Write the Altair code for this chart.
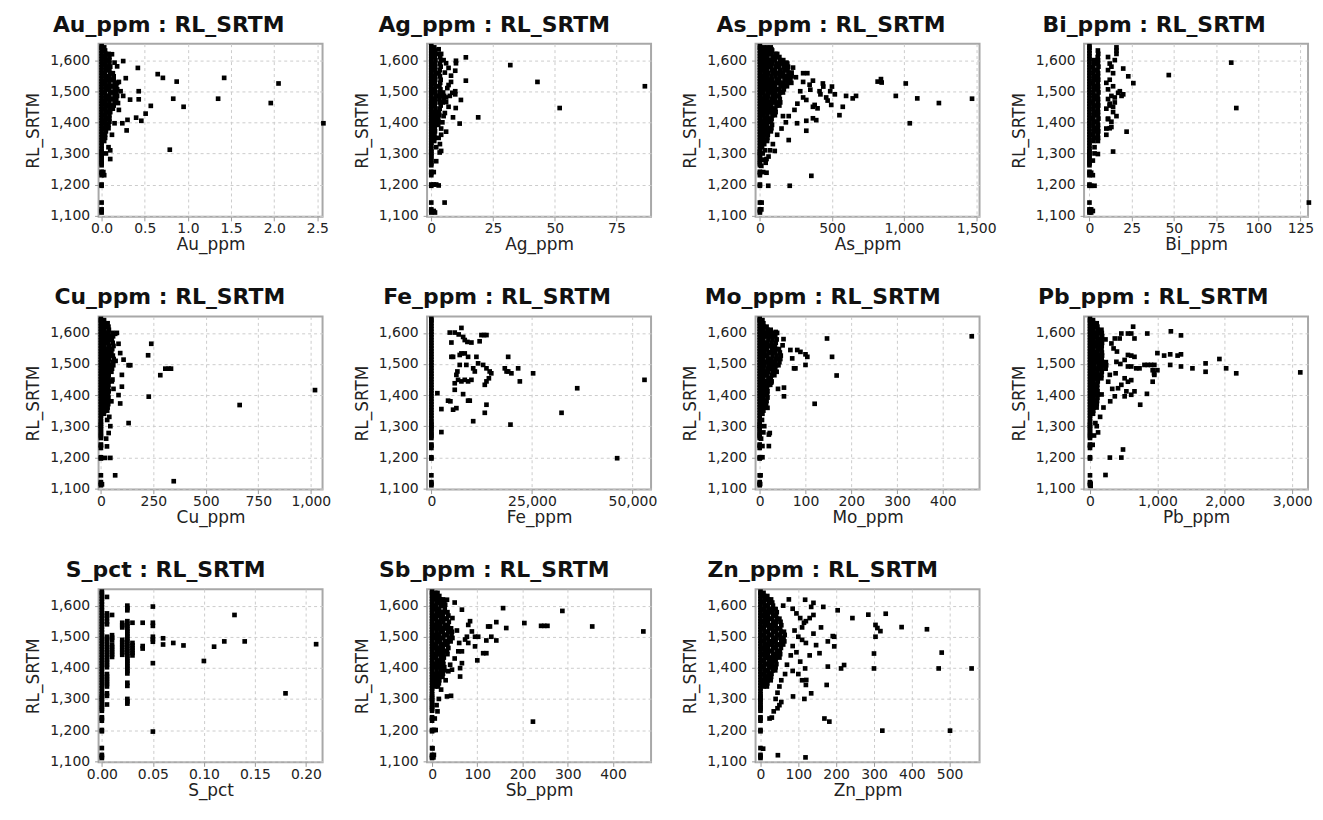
import altair as alt
import pandas as pd

N = None

# RL_SRTM of samples that sit at (near) zero for every element
RL_BAND = [1110, 1115, 1120, 1142, 1196, 1200, 1230, 1237, 1241, 1262, 1268, 1275, 1281, 1290,
           1296, 1302, 1308, 1315, 1325, 1334, 1343, 1352, 1361, 1370, 1379, 1388, 1397, 1406,
           1415, 1424, 1433, 1442, 1451, 1460, 1469, 1478, 1487, 1496, 1505, 1514, 1523, 1532,
           1541, 1550, 1559, 1568, 1577, 1586, 1595, 1604, 1613, 1622, 1631, 1640, 1645]

# RL_SRTM of the dense low-value cluster samples (one value per row of each cluster column)
RL_C = [1641, 1631, 1620, 1610, 1600, 1589, 1579, 1568, 1558, 1548, 1537, 1527, 1516, 1506, 1496,
        1485, 1475, 1464, 1454, 1444, 1433, 1423, 1412, 1402, 1392, 1381, 1371, 1360, 1350, 1340]

AU_COLS = [
    [0.03, 0.04, 0.05, 0.04, 0.05, 0.04, 0.05, 0.05, 0.04, 0.05, 0.05, 0.04, 0.05, 0.05, 0.04,
     0.05, 0.05, 0.04, 0.05, 0.04, 0.05, 0.04, 0.05, 0.04, 0.05, 0.04, 0.05, 0.04, 0.04, 0.03],
    [N, N, 0.08, 0.09, 0.09, 0.09, 0.1, 0.09, 0.1, 0.09, 0.1, 0.09, 0.1, 0.09, 0.1,
     0.09, 0.1, 0.09, 0.1, 0.09, 0.1, 0.09, 0.09, 0.09, 0.08, 0.08, N, N, N, N],
    [N, N, N, N, N, N, N, N, 0.13, 0.14, 0.14, 0.15, 0.14, 0.15, 0.14,
     0.15, 0.14, 0.15, 0.14, 0.13, N, N, N, N, N, N, N, N, N, N],
    [N, N, N, N, N, N, N, N, N, N, N, 0.18, 0.17, 0.18, 0.17,
     0.18, 0.17, N, N, N, N, N, N, N, N, N, N, N, N, N],
]
AU_EXTRA = [(0.12, 1619), (0.15, 1592), (0.25, 1597), (0.28, 1542), (0.42, 1575), (0.65, 1555), (0.71, 1543),
            (0.87, 1531), (1.42, 1543), (2.05, 1525), (1.96, 1462), (1.35, 1476), (0.83, 1476), (0.95, 1450),
            (0.79, 1312), (2.57, 1397), (0.57, 1453), (0.51, 1428), (0.46, 1405), (0.4, 1415), (0.3, 1408),
            (0.29, 1374), (0.24, 1397), (0.43, 1500), (0.43, 1474), (0.33, 1473), (0.25, 1485), (0.19, 1462),
            (0.1, 1310), (0.1, 1282), (0.15, 1397), (0.2, 1530), (0.22, 1500), (0.03, 1230), (0.02, 1240),
            (0.12, 1360), (0.08, 1320), (0.05, 1300), (0.2, 1440), (0.18, 1580)]

AG_COLS = [
    [1.2, 1.5, 1.6, 1.4, 1.7, 1.5, 1.6, 1.4, 1.7, 1.5, 1.6, 1.4, 1.7, 1.5, 1.6,
     1.8, 1.5, 1.6, 1.4, 1.7, 1.5, 1.6, 1.4, 1.5, 1.6, 1.4, 1.5, 1.3, 1.4, 1.2],
    [N, N, 3, 3.6, 3.9, 3.5, 3.8, 3.4, 3.1, 3.5, 3.8, 3.6, 3.3, 3.7, 3.4,
     3.6, 3.3, 3.5, 3.8, 3.4, 3.1, 3.2, 2.8, 2.9, 2.8, N, N, N, N, N],
    [N, N, N, N, N, N, N, N, N, N, N, N, N, N, 4.8,
     5.2, 5, 4.6, N, N, N, N, N, N, N, N, N, N, N, N],
]
AG_EXTRA = [(14, 1609), (10, 1598), (10, 1590), (14, 1534), (9.7, 1566), (12, 1472), (9.7, 1500), (9.7, 1490),
            (9.9, 1446), (8.8, 1416), (11.5, 1396), (19, 1416), (6, 1370), (3.4, 1303), (4, 1308), (5.4, 1142),
            (1, 1115), (1.5, 1110), (32, 1584), (43, 1530), (52, 1446), (86.5, 1516), (1, 1200), (2, 1200),
            (3, 1197), (1, 1240), (2, 1275), (7, 1520), (6, 1480), (8, 1550), (5, 1600), (4, 1620), (3, 1635),
            (7, 1450), (5, 1420), (4, 1380), (3, 1350), (2, 1320), (6, 1590), (7, 1575), (5.5, 1560),
            (8, 1530), (6.5, 1510), (8.5, 1495), (7.5, 1485), (6, 1465), (5.5, 1430), (4.5, 1400),
            (4, 1360), (3.5, 1330)]

AS_COLS = [
    [25, 30, 28, 26, 30, 27, 29, 25, 31, 28, 26, 30, 27, 29, 25, 31, 28, 26, 30, 27, 29, 25, 31, 28, 26, 30, 27, 29, 25, 28],
    [50, 58, 55, 52, 57, 54, 58, 51, 56, 53, 57, 55, 52, 58, 54, 56, 51, 57, 53, 55, 58, 52, 56, 54, 50, 57, 53, 55, 52, 50],
    [75, 85, 80, 88, 82, 86, 79, 84, 87, 81, 85, 83, 78, 86, 82, 88, 80, 84, 79, 85, 83, 87, 81, 78, 84, 80, 76, N, N, N],
    [N, N, 108, 112, 105, 115, 110, 107, 113, 109, 116, 111, 106, 114, 108, 112, 105, 110, 115, 107, 109, 104, N, N, N, N, N, N, N, N],
    [N, N, N, 135, 140, 138, 132, 142, 137, 141, 134, 139, 143, 136, 140, 133, 138, 141, 135, N, N, N, N, N, N, N, N, N, N, N],
    [N, N, N, N, 162, 168, 165, 170, 163, 167, 171, 164, 169, 166, 160, N, N, N, N, N, N, N, N, N, N, N, N, N, N, N],
    [N, N, N, N, N, 190, 195, 192, 198, 193, 196, 191, 188, N, N, N, N, N, N, N, N, N, N, N, N, N, N, N, N, N],
    [N, N, N, N, N, N, N, N, 215, 220, 212, 218, N, N, N, N, N, N, N, N, N, N, N, N, N, N, N, N, N, N],
]
AS_EXTRA = [(817, 1531), (840, 1539), (845, 1528), (1012, 1525), (943, 1485), (1092, 1477), (1242, 1462),
            (1472, 1476), (1040, 1397), (667, 1485), (644, 1477), (598, 1485), (575, 1450), (552, 1423),
            (495, 1456), (500, 1515), (488, 1500), (437, 1525), (414, 1500), (368, 1534), (345, 1521),
            (329, 1558), (300, 1558), (230, 1576), (184, 1592), (150, 1592), (380, 1456), (368, 1450),
            (322, 1472), (391, 1407), (368, 1413), (322, 1405), (322, 1373), (258, 1397), (200, 1343),
            (103, 1308), (207, 1196), (357, 1228), (58, 1196), (23, 1240), (46, 1238), (46, 1282), (12, 1142),
            (10, 1120), (420, 1490), (440, 1515), (460, 1480), (280, 1500), (300, 1480), (260, 1460),
            (240, 1440), (200, 1420), (180, 1400), (150, 1380), (160, 1420), (120, 1360), (90, 1330),
            (70, 1310), (60, 1290), (40, 1270), (300, 1530), (350, 1505), (250, 1545), (220, 1560),
            (120, 1620), (80, 1635), (520, 1490), (470, 1470), (400, 1445), (15, 1320), (20, 1300),
            (25, 1280), (10, 1260), (30, 1330), (35, 1310)]

BI_COLS = [
    [N, N, N, N, 2.5, 2.8, 2.3, 2.6, 2.4, 2.7, 2.5, 2.3, 2.6, 2.8, 2.4, 2.5, 2.7, 2.3, 2.6, 2.4, 2.8, 2.5, 2.3, 2.6, 2.4, 2.7, 2.5, 2.3, 2.6, 2.4],
    [N, 5, 5.2, 4.9, 5.1, 5, 5.3, 4.8, 5.1, 5, 5.2, 4.9, 5.1, 5, 5.3, 4.8, 5.1, 5, 5.2, 4.9, 5.1, 5, 5.3, 4.8, 5.1, 5, 5.2, 4.9, 5.1, 5],
    [16, 16, 16, 11, 15, 12, 13, 11, 14, N, 12, 10, 14, 11, N, 13, 11, 15, 12, 10, 14, N, 11, 13, N, 12, N, 10, N, N],
]
BI_EXTRA = [(20, 1573), (23, 1548), (26, 1526), (47, 1552), (84, 1592), (87, 1446), (130, 1142), (22, 1370),
            (14, 1306), (18, 1500), (15, 1480), (12, 1460), (14, 1450), (16, 1420), (11, 1410), (13, 1385),
            (10, 1380), (20, 1490), (17, 1495), (19, 1485), (1, 1120), (2, 1115), (1, 1110), (1, 1196),
            (3, 1196), (1, 1238), (2, 1277), (3, 1300), (5, 1298), (2, 1230), (3, 1320)]

CU_COLS = [
    [15, 18, 20, 17, 21, 19, 18, 20, 17, 21, 19, 18, 20, 17, 21, 19, 18, 20, 17, 21, 19, 18, 20, 17, 19, 18, 20, 17, 18, 15],
    [N, 32, 36, 38, 35, 39, 37, 34, 38, 36, 35, 39, 37, 34, 38, 36, 35, 37, 34, 38, 36, 35, 37, 34, 36, 33, 35, 32, 30, N],
    [N, N, N, N, 55, 58, 52, 56, 60, 54, 50, 57, 61, 55, 59, 53, 50, N, N, 52, N, N, N, N, N, N, N, N, N, N],
]
CU_EXTRA = [(240, 1565), (225, 1528), (283, 1464), (307, 1485), (323, 1485), (334, 1485), (228, 1395),
            (132, 1496), (140, 1496), (108, 1514), (132, 1310), (661, 1368), (1020, 1416), (347, 1123),
            (68, 1142), (20, 1198), (45, 1198), (29, 1235), (37, 1278), (5, 1113), (92, 1535), (84, 1565),
            (68, 1597), (76, 1600), (100, 1465), (84, 1400), (92, 1373), (100, 1427), (60, 1420), (50, 1380),
            (45, 1300), (30, 1320), (25, 1260), (40, 1330), (55, 1450), (70, 1510)]

FE_EXTRA = [(4570, 1601), (5810, 1601), (4980, 1569), (7470, 1616), (6800, 1595), (7900, 1587), (8300, 1577),
            (8960, 1571), (9960, 1569), (12450, 1593), (13100, 1593), (13700, 1593), (12000, 1573),
            (4980, 1523), (5400, 1523), (7050, 1529), (7470, 1534), (8300, 1534), (9130, 1523), (11200, 1523),
            (11620, 1502), (12870, 1497), (13700, 1486), (14500, 1476), (14900, 1470), (8700, 1497),
            (10400, 1486), (10800, 1476), (6640, 1449), (7470, 1444), (8300, 1449), (9130, 1444), (9960, 1449),
            (6220, 1465), (5810, 1438), (6470, 1476), (7050, 1497), (13280, 1433), (13700, 1444), (14300, 1454),
            (18260, 1486), (18700, 1476), (19100, 1476), (19900, 1470), (19100, 1523), (21580, 1486),
            (22000, 1444), (25300, 1470), (13700, 1369), (13280, 1343), (10400, 1316), (19670, 1305),
            (32370, 1343), (36270, 1422), (46200, 1197), (53000, 1449), (1490, 1406), (4150, 1382),
            (4730, 1380), (2490, 1355), (2490, 1281), (5400, 1353), (6220, 1358), (7890, 1403), (9130, 1382),
            (9540, 1382), (5810, 1417)]

MO_COLS = [
    [6, 8, 9, 8, 10, 9, 8, 10, 9, 8, 10, 9, 8, 10, 9, 8, 10, 9, 8, 10, 9, 8, 10, 9, 8, 9, 8, 9, 8, 6],
    [N, N, 15, 17, 18, 16, 19, 17, 18, 16, 19, 17, 18, 16, 19, 17, 18, 16, 19, 17, 18, 16, 17, 16, 17, 15, 14, N, N, N],
    [N, N, N, 24, 27, 25, 28, 26, 24, 27, 25, 28, 26, 24, 27, 25, 28, 26, 24, 26, 23, N, N, N, N, N, N, N, N, N],
    [N, N, N, N, N, 34, 37, 35, 33, 36, 34, 37, 35, 33, 36, 34, 37, 32, N, N, N, N, N, N, N, N, N, N, N, N],
    [N, N, N, N, N, N, N, N, N, 42, 44, 46, 45, 43, 41, N, N, N, N, N, N, N, N, N, N, N, N, N, N, N],
]
MO_EXTRA = [(147, 1582), (158, 1523), (168, 1463), (120, 1372), (463, 1589), (100, 1497), (104, 1523),
            (100, 1531), (89, 1539), (82, 1545), (71, 1518), (75, 1486), (78, 1486), (67, 1545), (52, 1580),
            (53, 1424), (53, 1396), (35, 1603), (38, 1600), (20, 1273), (22, 1278), (20, 1236), (17, 1359),
            (6, 1236), (2, 1200), (6, 1200), (2, 1142), (1, 1114), (50, 1560), (30, 1470), (25, 1440),
            (40, 1420), (10, 1300), (5, 1320), (8, 1280), (3, 1260)]

PB_COLS = [
    [45, 55, 60, 52, 62, 57, 54, 61, 58, 53, 60, 56, 62, 55, 59, 63, 54, 58, 61, 53, 57, 60, 55, 59, 52, 56, 50, 54, 48, 45],
    [N, 100, 110, 115, 120, 112, 118, 122, 114, 119, 113, 121, 116, 120, 125, 118, 112, 117, 111, 115, 108, 106, 112, 118, 110, 105, 100, 98, N, N],
    [N, N, N, 170, 175, 180, 172, 178, 174, 171, 176, 179, 173, 181, 177, 172, 175, 170, 168, N, N, N, N, 172, N, N, N, N, N, N],
    [N, N, N, N, N, N, 230, N, N, N, N, N, N, 235, 240, 232, N, N, N, N, N, N, N, N, N, N, N, N, N, N],
]
PB_EXTRA = [(1200, 1605), (1350, 1592), (640, 1620), (850, 1598), (1000, 1535), (1100, 1527), (1190, 1531),
            (1300, 1527), (1350, 1531), (1190, 1497), (1350, 1492), (1520, 1486), (1715, 1502), (1715, 1475),
            (1920, 1516), (2020, 1486), (2170, 1470), (3120, 1473), (845, 1404), (745, 1369), (295, 1199),
            (465, 1199), (490, 1225), (230, 1143), (10, 1115), (10, 1108), (465, 1598), (563, 1598),
            (612, 1598), (660, 1582), (440, 1582), (368, 1582), (318, 1566), (563, 1529), (612, 1527),
            (660, 1523), (514, 1513), (392, 1507), (808, 1497), (857, 1497), (906, 1497), (955, 1497),
            (735, 1486), (686, 1486), (612, 1492), (563, 1492), (930, 1480), (955, 1465), (930, 1443),
            (612, 1448), (563, 1443), (514, 1454), (465, 1433), (416, 1422), (368, 1396), (540, 1412),
            (612, 1401), (660, 1412), (514, 1396), (270, 1443), (294, 1465), (350, 1550), (400, 1540),
            (450, 1500), (380, 1470), (330, 1420), (300, 1380), (200, 1360), (150, 1330), (100, 1300),
            (120, 1280), (60, 1270), (40, 1240), (80, 1310), (1000, 1480), (950, 1470)]

# S_pct: values fall on discrete assay levels; RL_SRTM of samples at each level
S_LEVELS = {
    0.005: [1628, 1575, 1568, 1560, 1548, 1540, 1500, 1492, 1484, 1475, 1467, 1458, 1450, 1442, 1434, 1426,
            1418, 1410, 1402, 1380, 1372, 1364, 1356, 1348, 1340, 1318, 1310, 1282],
    0.01: [1570, 1505, 1497, 1490, 1475, 1467, 1459, 1451, 1443, 1435],
    0.02: [1545, 1537, 1530, 1490, 1482, 1474, 1466, 1458, 1450, 1442],
    0.025: [1600, 1592, 1585, 1550, 1542, 1534, 1526, 1518, 1510, 1502, 1494, 1486, 1478, 1470, 1462, 1454,
            1446, 1438, 1430, 1422, 1414, 1406, 1398, 1390, 1382, 1352, 1342, 1300, 1292, 1285],
    0.03: [1545, 1480, 1472, 1464, 1456, 1448, 1440],
    0.04: [1545, 1470, 1462],
    0.05: [1597, 1545, 1535, 1500, 1492, 1484, 1415, 1195],
    0.06: [1495, 1475],
    0.07: [1480],
    0.08: [1472],
    0.10: [1422],
    0.11: [1468],
    0.12: [1485],
    0.13: [1570],
    0.14: [1485],
    0.18: [1318],
    0.21: [1476],
}
S_EXTRA = [(lvl, rl) for lvl, rls in S_LEVELS.items() for rl in rls]

SB_COLS = [
    [7, 9, 8, 10, 9, 8, 10, 9, 8, 10, 9, 8, 10, 9, 8, 10, 9, 8, 10, 9, 8, 10, 9, 8, 10, 9, 8, 9, 8, 7],
    [12, 16, 18, 17, 19, 16, 18, 17, 19, 16, 18, 17, 19, 16, 18, 17, 19, 16, 18, 17, 19, 16, 18, 17, 19, 16, 17, 16, 15, 13],
    [N, N, 24, 27, 25, 28, 26, 24, 27, 25, 28, 26, 24, 27, 25, 28, 26, 24, 27, 25, 26, 24, 25, 27, 26, 24, 23, N, N, N],
    [N, N, N, N, N, N, 34, 36, 33, 37, 35, 34, 36, 33, 37, 35, 34, 36, 33, 34, N, N, N, N, N, N, N, N, N, N],
    [N, N, N, N, N, N, N, N, N, N, N, 42, 44, 43, 45, 41, N, N, N, N, N, N, N, N, N, N, N, N, N, N],
]
SB_EXTRA = [(288, 1583), (157, 1592), (204, 1544), (241, 1535), (248, 1535), (255, 1535), (354, 1533),
            (467, 1517), (164, 1528), (142, 1547), (124, 1533), (128, 1533), (142, 1488), (131, 1500),
            (120, 1488), (113, 1447), (120, 1447), (100, 1424), (95, 1469), (80, 1480), (84, 1550), (80, 1538),
            (66, 1587), (77, 1500), (73, 1491), (58, 1453), (66, 1453), (62, 1399), (66, 1415), (62, 1372),
            (44, 1394), (36, 1389), (33, 1308), (42, 1310), (223, 1227), (4, 1200), (8, 1200), (6, 1237),
            (1, 1141), (4, 1120), (3, 1112), (29, 1603), (33, 1619), (88, 1517), (95, 1500), (102, 1500),
            (50, 1610), (45, 1560), (55, 1520), (60, 1480), (50, 1430), (40, 1410), (30, 1360), (20, 1330),
            (15, 1300), (10, 1280), (12, 1260)]

ZN_COLS = [
    [8, 10, 11, 9, 12, 10, 11, 9, 12, 10, 11, 9, 12, 10, 11, 9, 12, 10, 11, 9, 12, 10, 11, 9, 12, 10, 11, 9, 10, 8],
    [N, 18, 20, 22, 19, 21, 23, 20, 22, 19, 21, 23, 20, 22, 19, 21, 23, 20, 22, 19, 21, 23, 20, 22, 19, 21, 20, 19, 18, 17],
    [N, N, 28, 31, 33, 30, 32, 34, 31, 33, 30, 32, 34, 31, 33, 30, 32, 34, 31, 33, 30, 32, 31, 30, 32, 29, 28, 27, N, N],
    [N, N, N, N, N, 40, 43, 41, 44, 42, 40, 43, 41, 44, 42, 40, 43, 41, 44, 42, 41, 40, 42, 40, 39, N, N, N, N, N],
    [N, N, N, N, N, N, N, N, 50, 53, 55, 52, 54, 51, 53, 55, 52, 54, 51, 52, 50, N, N, N, N, N, N, N, N, N],
    [N, N, N, N, N, N, N, N, N, N, N, N, 62, 64, 61, 63, 60, N, N, N, N, N, N, N, N, N, N, N, N, N],
]
ZN_EXTRA = [(118, 1619), (134, 1596), (140, 1609), (166, 1596), (204, 1585), (243, 1560), (285, 1571),
            (331, 1574), (373, 1531), (440, 1524), (304, 1538), (309, 1528), (317, 1518), (304, 1500),
            (300, 1446), (300, 1398), (479, 1449), (471, 1398), (558, 1398), (501, 1198), (322, 1198),
            (213, 1398), (221, 1409), (178, 1404), (175, 1345), (169, 1237), (182, 1227), (195, 1500),
            (191, 1502), (195, 1469), (178, 1485), (156, 1447), (147, 1473), (118, 1398), (121, 1361),
            (116, 1300), (134, 1318), (86, 1308), (24, 1237), (7, 1140), (46, 1119), (119, 1112), (85, 1590),
            (95, 1575), (105, 1560), (115, 1545), (120, 1550), (130, 1560), (140, 1570), (100, 1500),
            (110, 1490), (85, 1470), (95, 1450), (105, 1420), (80, 1440), (70, 1410), (65, 1380), (55, 1360),
            (50, 1340), (45, 1320), (40, 1300), (50, 1280), (45, 1270), (55, 1290), (85, 1390), (100, 1380),
            (110, 1360), (120, 1345), (90, 1520), (110, 1530), (75, 1620), (60, 1600), (120, 1480),
            (140, 1510), (160, 1530), (130, 1440), (35, 1260), (30, 1240)]

Y_TICKS = [1100, 1200, 1300, 1400, 1500, 1600]

# name, cluster columns, extra points, x ticks, x format, x domain
PANELS = [
    ("Au_ppm", AU_COLS, AU_EXTRA, [0, 0.5, 1.0, 1.5, 2.0, 2.5], ".1f", [-0.035, 2.56]),
    ("Ag_ppm", AG_COLS, AG_EXTRA, [0, 25, 50, 75], "d", [-1.7, 89]),
    ("As_ppm", AS_COLS, AS_EXTRA, [0, 500, 1000, 1500], ",d", [-30, 1524]),
    ("Bi_ppm", BI_COLS, BI_EXTRA, [0, 25, 50, 75, 100, 125], "d", [-3.2, 129.5]),
    ("Cu_ppm", CU_COLS, CU_EXTRA, [0, 250, 500, 750, 1000], ",d", [-11, 1056]),
    ("Fe_ppm", [], FE_EXTRA, [0, 25000, 50000], ",d", [-1070, 54630]),
    ("Mo_ppm", MO_COLS, MO_EXTRA, [0, 100, 200, 300, 400], "d", [-9, 480]),
    ("Pb_ppm", PB_COLS, PB_EXTRA, [0, 1000, 2000, 3000], ",d", [-88, 3235]),
    ("S_pct", [], S_EXTRA, [0, 0.05, 0.10, 0.15, 0.20], ".2f", [-0.0032, 0.2163]),
    ("Sb_ppm", SB_COLS, SB_EXTRA, [0, 100, 200, 300, 400], "d", [-11, 484]),
    ("Zn_ppm", ZN_COLS, ZN_EXTRA, [0, 100, 200, 300, 400, 500], "d", [-13, 579]),
]

FONT = "DejaVu Sans"


def panel(name, cols, extra, ticks, fmt, dom):
    xs, ys = [], []
    for rl in RL_BAND:
        xs.append(0.0)
        ys.append(rl)
    for col in cols:
        for v, rl in zip(col, RL_C):
            if v is not None:
                xs.append(v)
                ys.append(rl)
    for x, y in extra:
        xs.append(x)
        ys.append(y)
    df = pd.DataFrame({"x": xs, "y": ys})
    return (
        alt.Chart(df)
        .mark_square(size=22, color="black", opacity=1, clip=False)
        .encode(
            x=alt.X("x:Q",
                    scale=alt.Scale(domain=dom, nice=False, zero=False),
                    axis=alt.Axis(values=ticks, format=fmt, title=name,
                                  labelFlush=(name == "As_ppm"))),
            y=alt.Y("y:Q",
                    scale=alt.Scale(domain=[1096, 1653], nice=False, zero=False),
                    axis=alt.Axis(values=Y_TICKS, format=",d", title="RL_SRTM")),
        )
        .properties(
            width=225, height=174,
            title=alt.TitleParams(text=f"{name} : RL_SRTM", fontSize=22, fontWeight="bold",
                                  font=FONT, color="#111111", anchor="middle",
                                  frame="bounds", offset=7, dx=-8),
        )
    )


charts = [panel(*p) for p in PANELS]

chart = (
    alt.concat(*charts, columns=4, spacing={"row": 100, "column": 105}, bounds="flush")
    .properties(padding={"left": 15, "top": 3, "right": 0, "bottom": 2}, background="white")
    .configure_view(stroke="#a8a8a8", strokeWidth=2)
    .configure_axis(
        grid=True, gridColor="#cccccc", gridDash=[3, 3], gridWidth=1,
        domain=False, ticks=True, tickColor="#999999", tickSize=4,
        labelFont=FONT, labelFontSize=14, labelColor="#222222",
        titleFont=FONT, titleFontSize=17, titleFontWeight="normal", titleColor="#222222",
    )
    .configure_axisX(labelPadding=1, titlePadding=1)
    .configure_axisY(labelPadding=5, titlePadding=7)
)

chart.save("out.html", embed_options={"renderer": "svg", "actions": False})
